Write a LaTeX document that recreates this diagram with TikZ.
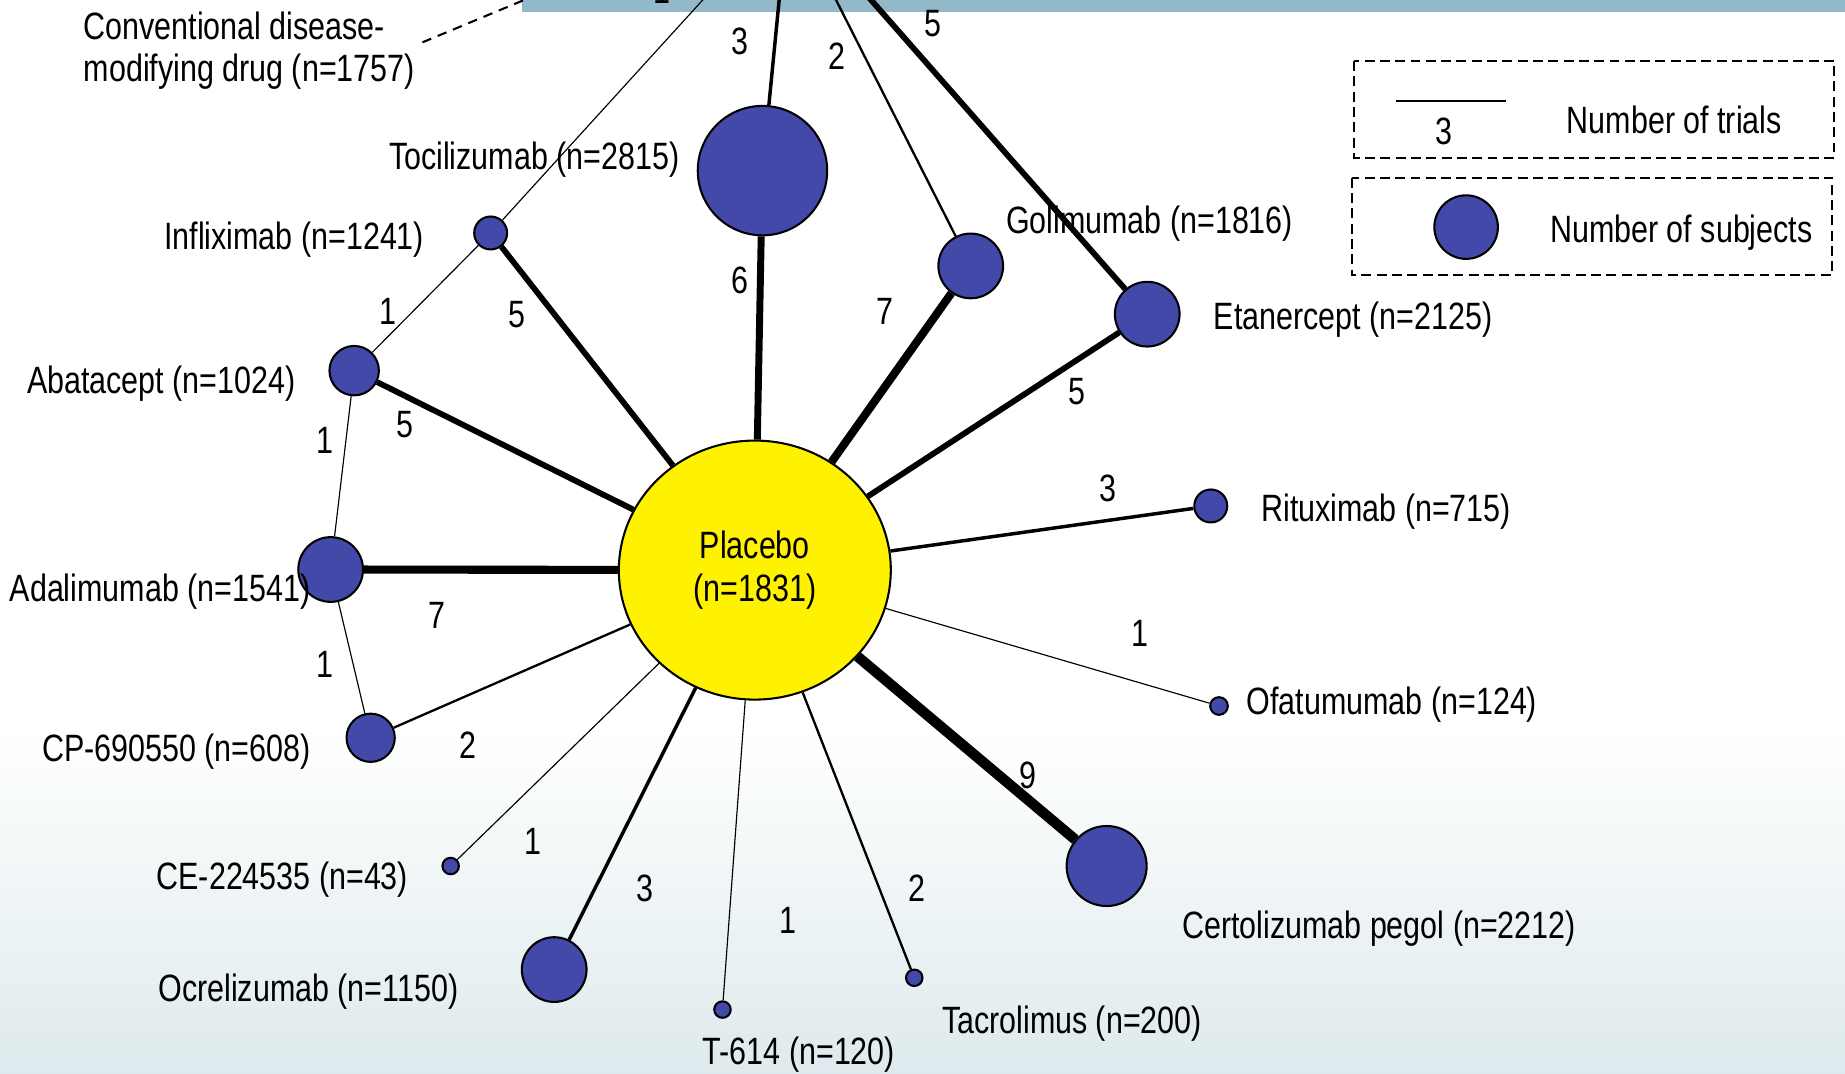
\documentclass[tikz,border=0pt]{standalone}
\usepackage{fontspec}
\setmainfont{Liberation Sans}[FakeStretch=0.8]
\usetikzlibrary{shapes.geometric}
\definecolor{drugblue}{RGB}{67,73,169}
\definecolor{barblue}{RGB}{147,185,201}
\definecolor{bgfoot}{RGB}{222,234,237}

\begin{document}
\begin{tikzpicture}[x=0.01cm,y=-0.01cm,
    font=\fontsize{9.2}{10.2}\selectfont,
    drug/.style={draw,circle,fill=drugblue,line width=0.5pt,inner sep=0pt,minimum size=#1*0.01cm},
    plac/.style={draw,ellipse,fill=yellow,line width=0.5pt,inner sep=0pt,minimum width=2.31cm,minimum height=2.2cm,align=center},
    ntrials/.style={line width=#1*0.28pt},
    lbl/.style={inner sep=1pt,yshift=-0.03cm},
    num/.style={inner sep=1pt},
    legbox/.style={draw,dash pattern=on 2.4pt off 1.3pt,line width=0.5pt}]
    \useasboundingbox (0,0) rectangle (1568,912);
    % background and top bar
    \fill[white] (0,0) rectangle (1568,912);
    \shade[top color=white,bottom color=bgfoot] (0,620) rectangle (1568,912);
    \fill[barblue] (444,-30) rectangle (1568,10.4);

    % treatments
    \node[plac] (placebo) at (641.5,484.5) {Placebo\\(n=1831)};
    \coordinate (dmard) at (670,-80);
    \node[drug=110] (tocilizumab) at (648,145) {};
    \node[drug=28] (infliximab) at (417,198) {};
    \node[drug=42] (abatacept) at (301,315) {};
    \node[drug=55] (adalimumab) at (281,484) {};
    \node[drug=41] (cp690550) at (315,627) {};
    \node[drug=14] (ce224535) at (383,736) {};
    \node[drug=55] (ocrelizumab) at (471,824) {};
    \node[drug=14] (t614) at (614,858) {};
    \node[drug=14] (tacrolimus) at (777,831) {};
    \node[drug=68] (certolizumab) at (940.5,736) {};
    \node[drug=15] (ofatumumab) at (1036,600) {};
    \node[drug=28] (rituximab) at (1029,430) {};
    \node[drug=55] (etanercept) at (975,267) {};
    \node[drug=55] (golimumab) at (825,226) {};

    % names
    \node[lbl,anchor=west,align=left] (dmard-l) at (67,40) {Conventional disease-\\modifying drug (n=1757)};
    \node[lbl] (tocilizumab-l) at (454,133) {Tocilizumab (n=2815)};
    \node[lbl] (infliximab-l) at (250,201) {Infliximab (n=1241)};
    \node[lbl] (abatacept-l) at (137,323) {Abatacept (n=1024)};
    \node[lbl] (adalimumab-l) at (136,500) {Adalimumab (n=1541)};
    \node[lbl] (cp690550-l) at (150,636) {CP-690550 (n=608)};
    \node[lbl] (ce224535-l) at (240,745) {CE-224535 (n=43)};
    \node[lbl] (ocrelizumab-l) at (262,840) {Ocrelizumab (n=1150)};
    \node[lbl] (t614-l) at (679,893) {T-614 (n=120)};
    \node[lbl] (tacrolimus-l) at (911,867) {Tacrolimus (n=200)};
    \node[lbl] (certolizumab-l) at (1172,786) {Certolizumab pegol (n=2212)};
    \node[lbl] (ofatumumab-l) at (1183,596) {Ofatumumab (n=124)};
    \node[lbl] (rituximab-l) at (1178,432) {Rituximab (n=715)};
    \node[lbl] (etanercept-l) at (1150,269) {Etanercept (n=2125)};
    \node[lbl] (golimumab-l) at (977,187) {Golimumab (n=1816)};

    \coordinate (leadA) at (359,36);
    \coordinate (leadB) at (455,-4);
    \draw[dash pattern=on 2.3pt off 1.7pt,line width=0.5pt] (leadA) -- (leadB);

    % trials
    \draw[ntrials=5] (placebo) -- (infliximab) node[num] at (439,267) {5};
    \draw[ntrials=6] (placebo) -- (tocilizumab) node[num] at (629,238) {6};
    \draw[ntrials=7] (placebo) -- (golimumab) node[num] at (752,265) {7};
    \draw[ntrials=5] (placebo) -- (etanercept) node[num] at (915,333) {5};
    \draw[ntrials=3] (placebo) -- (rituximab) node[num] at (942,415) {3};
    \draw[ntrials=1] (placebo) -- (ofatumumab) node[num] at (969,538) {1};
    \draw[ntrials=9] (placebo) -- (certolizumab) node[num] at (874,659) {9};
    \draw[ntrials=2] (placebo) -- (tacrolimus) node[num] at (779,755) {2};
    \draw[ntrials=1] (placebo) -- (t614) node[num] at (670,782) {1};
    \draw[ntrials=3] (placebo) -- (ocrelizumab) node[num] at (548,755) {3};
    \draw[ntrials=1] (placebo) -- (ce224535) node[num] at (453,715) {1};
    \draw[ntrials=2] (placebo) -- (cp690550) node[num] at (398,633) {2};
    \draw[ntrials=7] (placebo) -- (adalimumab) node[num] at (371,523) {7};
    \draw[ntrials=5] (placebo) -- (abatacept) node[num] at (344,361) {5};
    \draw[ntrials=1] (abatacept) -- (adalimumab) node[num] at (276,374) {1};
    \draw[ntrials=1] (adalimumab) -- (cp690550) node[num] at (276,565) {1};
    \draw[ntrials=1] (abatacept) -- (infliximab) node[num] at (330,265) {1};
    \draw[ntrials=1] (infliximab) -- (dmard) node[num] at (563,-8) {1};
    \draw[ntrials=3] (tocilizumab) -- (dmard) node[num] at (629,35) {3};
    \draw[ntrials=2] (golimumab) -- (dmard) node[num] at (711,48) {2};
    \draw[ntrials=5] (etanercept) -- (dmard) node[num] at (793,20) {5};

    % legend
    \draw[legbox] (1151,52) rectangle (1559,134);
    \coordinate (legA) at (1186,86);
    \coordinate (legB) at (1280,86);
    \draw[line width=0.5pt] (legA) -- (legB) node[num] at (1227,112) {3};
    \node[lbl] (trials-l) at (1423,99) {Number of trials};
    \draw[legbox] (1149,151) rectangle (1557,234);
    \node[drug=54] (legdot) at (1246,193) {};
    \node[lbl] (subjects-l) at (1429,195) {Number of subjects};
\end{tikzpicture}
\end{document}
